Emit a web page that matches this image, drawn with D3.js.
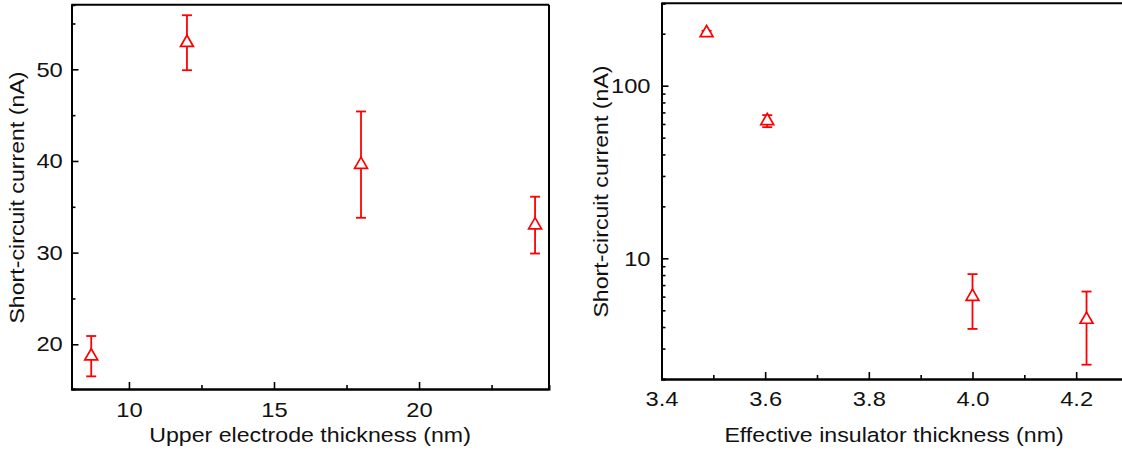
<!DOCTYPE html>
<html>
<head>
<meta charset="utf-8">
<script src="https://cdn.jsdelivr.net/npm/d3@7"></script>
<style>
    body { margin: 0; background: #fff; }
    svg { display: block; font-family: "Liberation Sans", Arial, sans-serif; }
</style>
</head>
<body>
<svg id="chart" width="1122" height="453"></svg>
<script>
// Links: Strom über Dicke der oberen Elektrode
const electrodeThickness = [8.7, 12, 18, 24];
const currentByElectrode = [18.7, 52.9, 39.6, 33.0];
const errorByElectrode = [2.2, 3.0, 5.8, 3.1];

// Rechts: Strom über effektive Isolatordicke (log)
const insulatorThickness = [3.487, 3.604, 4.0, 4.22];
const currentByInsulator = [202, 62.5, 6.0, 4.42];
const errorByInsulator = [6, 5, 2.1, 2.0];

// Achsenbeschriftungen
const leftXTicks = [10, 15, 20];
const leftXMinor = [12.5, 17.5, 22.5];
const leftYTicks = [20, 30, 40, 50];
const leftYMinor = [25, 35, 45, 55];
const rightXTicks = [3.4, 3.6, 3.8, 4.0, 4.2];
const rightXMinor = [3.5, 3.7, 3.9, 4.1, 4.3];
const rightYTicks = [10, 100];
const rightYMinor = [2, 3, 4, 5, 6, 7, 8, 9, 20, 30, 40, 50, 60, 70, 80, 90, 200, 300];

const RED = "#ff0000";
const TEXT = "#111";
const STRETCH = 1.13;   // Schrift im Original ist breiter als Arial
const svg = d3.select("#chart");

// Skalen
const xLeft = d3.scaleLinear().domain([8.02, 24.48]).range([71.5, 549]);
const yLeft = d3.scaleLinear().domain([15.12, 57.05]).range([389, 4.7]);
const xRight = d3.scaleLinear().domain([3.4, 4.3]).range([661.5, 1128]);
const yRight = d3.scaleLog().domain([2, 300]).range([379, 3.3]);

function styleAxis(g) {
    g.select(".domain").attr("stroke", "#000").attr("stroke-width", 2);
    g.selectAll(".tick line").attr("stroke", "#000").attr("stroke-width", 1.6);
    g.selectAll(".tick text")
        .attr("fill", TEXT)
        .attr("transform", `scale(${STRETCH},1)`)
        .style("font-size", "21px");
}

function drawPanel(cfg) {
    const { x, y, xTicks, xMinor, yTicks, yMinor, xPad, yPad, xFmt, yFmt } = cfg;
    const [x0, x1] = x.range();
    const [y0, y1] = y.range();

    // Rahmen oben und rechts
    svg.append("line")
        .attr("x1", x0).attr("x2", x1).attr("y1", y1).attr("y2", y1)
        .attr("stroke", "#000").attr("stroke-width", 2);
    svg.append("line")
        .attr("x1", x1).attr("x2", x1).attr("y1", y1).attr("y2", y0)
        .attr("stroke", "#000").attr("stroke-width", 2);

    // Nebenstriche
    svg.append("g")
        .attr("transform", `translate(0,${y0})`)
        .call(d3.axisBottom(x).tickValues(xMinor).tickSize(-4).tickFormat(""))
        .call(styleAxis);
    svg.append("g")
        .attr("transform", `translate(${x0},0)`)
        .call(d3.axisLeft(y).tickValues(yMinor).tickSize(-4).tickFormat(""))
        .call(styleAxis);

    // Hauptstriche mit Beschriftung
    svg.append("g")
        .attr("transform", `translate(0,${y0})`)
        .call(d3.axisBottom(x).tickValues(xTicks).tickSize(-7).tickSizeOuter(0)
            .tickPadding(xPad).tickFormat(xFmt))
        .call(styleAxis);
    svg.append("g")
        .attr("transform", `translate(${x0},0)`)
        .call(d3.axisLeft(y).tickValues(yTicks).tickSize(-7).tickSizeOuter(0)
            .tickPadding(yPad).tickFormat(yFmt))
        .call(styleAxis);
}

function drawPoints(x, y, xs, ys, errs) {
    const g = svg.append("g");
    const cap = 5;

    xs.forEach((xv, i) => {
        const cx = x(xv);
        const top = y(ys[i] + errs[i]);
        const bottom = y(ys[i] - errs[i]);
        g.append("line")
            .attr("x1", cx).attr("x2", cx).attr("y1", top).attr("y2", bottom)
            .attr("stroke", RED).attr("stroke-width", 1.8);
        [top, bottom].forEach(yy => {
            g.append("line")
                .attr("x1", cx - cap).attr("x2", cx + cap).attr("y1", yy).attr("y2", yy)
                .attr("stroke", RED).attr("stroke-width", 1.8);
        });
    });

    g.selectAll("path.marker")
        .data(xs)
        .join("path")
        .attr("class", "marker")
        .attr("d", d3.symbol(d3.symbolTriangle, 72))
        .attr("transform", (d, i) => `translate(${x(d)},${y(ys[i])})`)
        .attr("fill", "#fff")
        .attr("stroke", RED)
        .attr("stroke-width", 1.7);
}

// Linkes Diagramm
drawPanel({
    x: xLeft, y: yLeft,
    xTicks: leftXTicks, xMinor: leftXMinor,
    yTicks: leftYTicks, yMinor: leftYMinor,
    xPad: 13.5, yPad: 7.7,
    xFmt: d3.format("d"), yFmt: d3.format("d")
});
drawPoints(xLeft, yLeft, electrodeThickness, currentByElectrode, errorByElectrode);

// Rechtes Diagramm
drawPanel({
    x: xRight, y: yRight,
    xTicks: rightXTicks, xMinor: rightXMinor,
    yTicks: rightYTicks, yMinor: rightYMinor,
    xPad: 12.2, yPad: 9.7,
    xFmt: d3.format(".1f"), yFmt: d3.format("d")
});
drawPoints(xRight, yRight, insulatorThickness, currentByInsulator, errorByInsulator);

// Achsentitel
function axisTitle(text, xPos, yPos, rotate) {
    svg.append("text")
        .attr("transform", `translate(${xPos},${yPos})` + (rotate ? " rotate(-90)" : "") +
            ` scale(${STRETCH},1)`)
        .attr("text-anchor", "middle")
        .attr("fill", TEXT)
        .style("font-size", "20.5px")
        .text(text);
}

axisTitle("Upper electrode thickness (nm)", 310, 441.5, false);
axisTitle("Short-circuit current (nA)", 24.3, 197.5, true);
axisTitle("Effective insulator thickness (nm)", 894, 441.5, false);
axisTitle("Short-circuit current (nA)", 608, 191.5, true);
</script>
</body>
</html>
